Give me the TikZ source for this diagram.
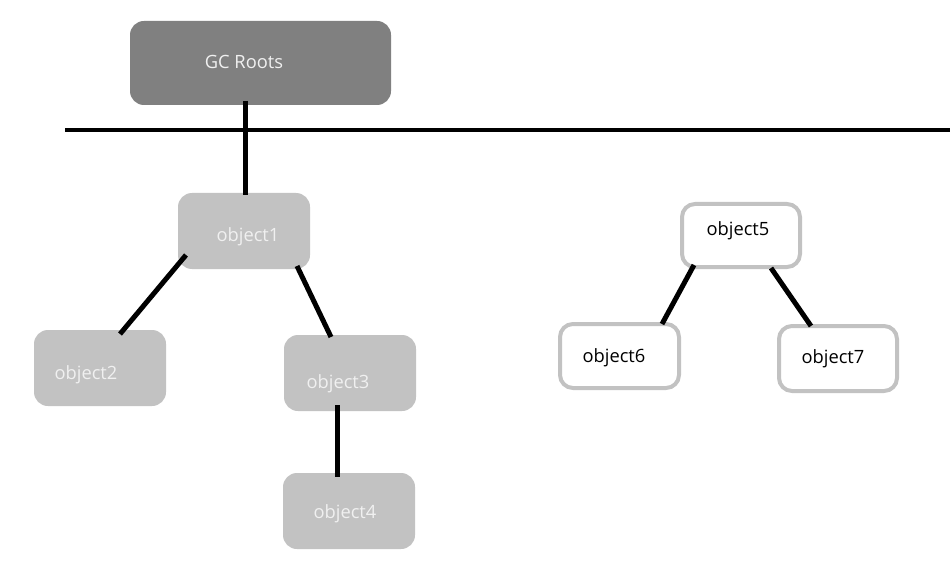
\documentclass[tikz,border=0pt]{standalone}
\usepackage{fontspec}
\setmainfont{Open Sans}
\begin{document}
\begin{tikzpicture}[x=1pt,y=-1pt,
  darkbox/.style={fill=black!50,draw=none,rounded corners=14pt,inner sep=0pt},
  graybox/.style={fill=black!24,draw=none,rounded corners=14pt,inner sep=0pt},
  outbox/.style={fill=white,draw=black!24,line width=4pt,rounded corners=13pt,inner sep=0pt},
  lighttxt/.style={text=white!94!black,font=\fontsize{18.3}{20}\selectfont,inner sep=0pt},
  darktxt/.style={text=black,font=\fontsize{18.3}{20}\selectfont,inner sep=0pt},
  link/.style={line width=5pt,black}]
\useasboundingbox[fill=white] (0,0) rectangle (950,572);
% boxes
\node[darkbox,minimum width=261pt,minimum height=84pt] (gc) at (260.5,63) {};
\node[graybox,minimum width=132pt,minimum height=76pt] (o1) at (244,231) {};
\node[graybox,minimum width=132pt,minimum height=76pt] (o2) at (100,368) {};
\node[graybox,minimum width=132pt,minimum height=76pt] (o3) at (350,373) {};
\node[graybox,minimum width=132pt,minimum height=76pt] (o4) at (349,511) {};
\node[outbox,minimum width=118pt,minimum height=63pt] (o5) at (741,235.5) {};
\node[outbox,minimum width=119pt,minimum height=64pt] (o6) at (619.5,356) {};
\node[outbox,minimum width=118pt,minimum height=65pt] (o7) at (838,358.5) {};
% texts
\node[lighttxt] (t0) at (244,62) {GC Roots};
\node[lighttxt] (t1) at (248,237) {object1};
\node[lighttxt] (t2) at (86,375) {object2};
\node[lighttxt] (t3) at (338,384) {object3};
\node[lighttxt] (t4) at (345,514) {object4};
\node[darktxt] (t5) at (738,231) {object5};
\node[darktxt] (t6) at (614,358) {object6};
\node[darktxt] (t7) at (833,359) {object7};
% horizontal line
\coordinate (hl) at (65,130);
\coordinate (hr) at (950,130);
\draw[line width=4.5pt] (hl) -- (hr);
% connector endpoints
\coordinate (gcb) at (245,101);
\coordinate (o1t) at (245,195);
\coordinate (a1) at (186,255);
\coordinate (a2) at (120,334);
\coordinate (b1) at (297,266);
\coordinate (b2) at (331,337);
\coordinate (c1) at (337,405);
\coordinate (c2) at (337,477);
\coordinate (d1) at (694,265);
\coordinate (d2) at (662,324);
\coordinate (e1) at (771,268);
\coordinate (e2) at (811,326);
\draw[link] (gcb) -- (o1t);
\draw[link] (a1) -- (a2);
\draw[link] (b1) -- (b2);
\draw[link] (c1) -- (c2);
\draw[link] (d1) -- (d2);
\draw[link] (e1) -- (e2);
\end{tikzpicture}
\end{document}
